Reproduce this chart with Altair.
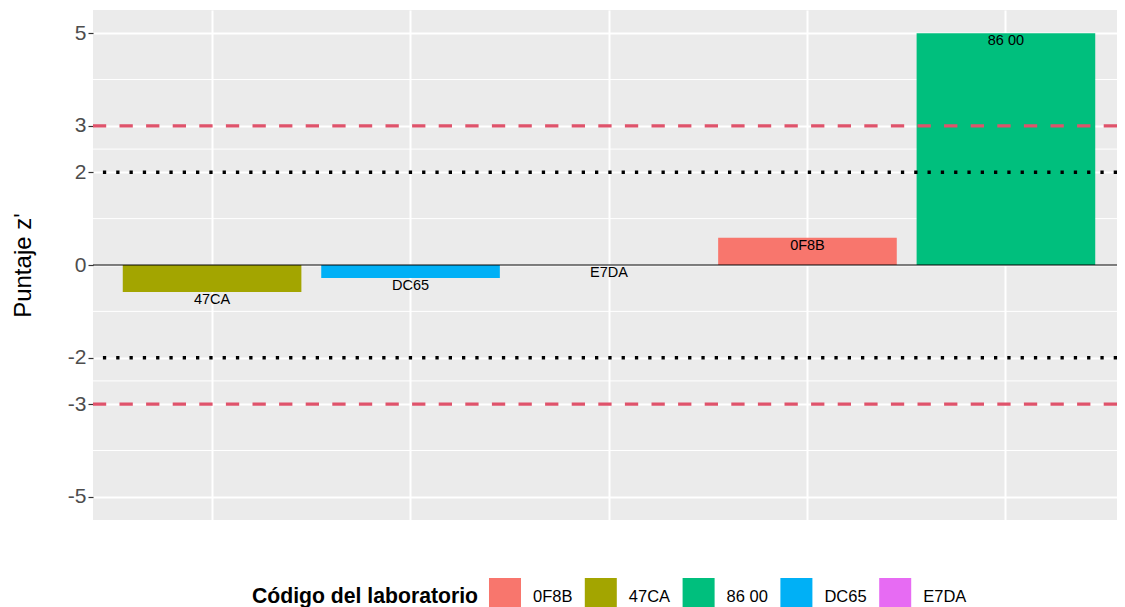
import altair as alt
import pandas as pd

# ---- data ----
labs = ["47CA", "DC65", "E7DA", "0F8B", "86 00"]          # x order (by score)
zvals = [-0.58, -0.28, 0.0, 0.59, 5.0]
legend_order = ["0F8B", "47CA", "86 00", "DC65", "E7DA"]
legend_colors = ["#F8766D", "#A3A500", "#00BF7D", "#00B0F6", "#E76BF3"]
major_y = [-5, -3, -2, 0, 2, 3, 5]
minor_y = [-4, -2.5, -1, 1, 2.5, 4]
action_lines = [-3, 3]
warning_lines = [-2, 2]
zero_line = [0]

FONT = "Liberation Sans"

df = pd.DataFrame({"lab": labs, "z": zvals})
df_minor = pd.DataFrame({"v": minor_y})
df_action = pd.DataFrame({"v": action_lines})
df_warn = pd.DataFrame({"v": warning_lines})
df_zero = pd.DataFrame({"v": zero_line})

yscale = alt.Scale(domain=[-5.5, 5.5], nice=False, zero=False)
xscale = alt.Scale(domain=labs, range=[0, 1032], paddingInner=0.1, paddingOuter=0.15)

x_enc = alt.X("lab:N", scale=xscale, sort=labs,
              axis=alt.Axis(labels=False, ticks=False, domain=False, title=None,
                            grid=True, gridColor="white", gridWidth=2, bandPosition=0.5))
y_axis = alt.Axis(values=major_y, grid=True, gridColor="white", gridWidth=2,
                  domain=False, ticks=True, tickColor="#333333", tickSize=5, tickWidth=1.2,
                  labelExpr="'' + datum.value",
                  labelFontSize=21, labelColor="#4D4D4D", labelFont=FONT, labelPadding=2,
                  title="Puntaje z'", titleFont=FONT, titleFontSize=24, titleFontWeight="normal",
                  titleColor="black", titleAngle=270, titleBaseline="alphabetic",
                  titleX=-63, titleY=255, titleAlign="center")

minor = alt.Chart(df_minor).mark_rule(color="white", strokeWidth=1).encode(
    y=alt.Y("v:Q", scale=yscale, axis=y_axis)
)

bars = alt.Chart(df).mark_bar(opacity=1).encode(
    x=x_enc,
    y=alt.Y("z:Q", scale=yscale),
    y2=alt.datum(0),
    color=alt.Color("lab:N",
                    scale=alt.Scale(domain=legend_order, range=legend_colors),
                    legend=alt.Legend(orient="none", legendX=159, legendY=568,
                                      direction="horizontal", titleOrient="left",
                                      title="Código del laboratorio", titleLimit=500,
                                      titleFont=FONT, titleFontSize=21.2, titleFontWeight="bold",
                                      titleColor="black", titleBaseline="middle",
                                      titlePadding=8.5,
                                      labelFont=FONT, labelFontSize=16.5, labelColor="black",
                                      symbolType="M-0.865,-1H0.865V1H-0.865Z", symbolSize=1369,
                                      symbolStrokeWidth=0, symbolOpacity=1,
                                      labelOffset=9.5, columnPadding=9.8)),
)

action = alt.Chart(df_action).mark_rule(color="#DF536B", strokeWidth=3.3,
                                        strokeDash=[13.3, 13.3]).encode(
    y=alt.Y("v:Q", scale=yscale)
)
warn = alt.Chart(df_warn).mark_rule(color="black", strokeWidth=3.3,
                                    strokeDash=[3.3, 10]).encode(
    y=alt.Y("v:Q", scale=yscale)
)
zero = alt.Chart(df_zero).mark_rule(color="black", strokeWidth=1.2).encode(
    y=alt.Y("v:Q", scale=yscale)
)

labels = alt.Chart(df).mark_text(baseline="top", align="center", fontSize=14.5,
                                 font=FONT, color="black", dy=1).encode(
    x=alt.X("lab:N", scale=xscale, sort=labs),
    y=alt.Y("z:Q", scale=yscale),
    text="lab:N",
)

chart = alt.layer(minor, bars, action, warn, zero, labels).properties(
    width=1024, height=510,
    background="white",
    autosize=alt.AutoSizeParams(type="none"),
    padding={"left": 85, "top": 2, "right": 0, "bottom": 87},
).configure_view(
    fill="#EBEBEB", strokeWidth=0
)

chart.save("out.html", embed_options={"renderer": "svg", "actions": False})
